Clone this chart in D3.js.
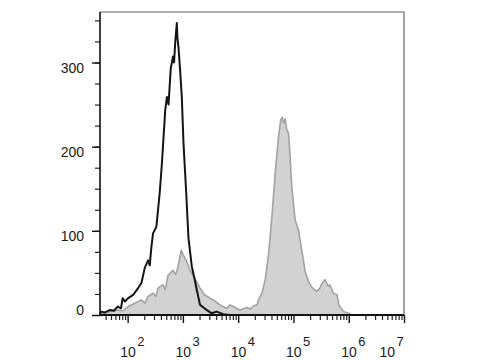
<!DOCTYPE html>
<html lang="en">
<head>
    <meta charset="UTF-8">
    <title>Flow cytometry histogram</title>
    <style>
        body {
            margin: 0;
            padding: 0;
            background-color: #fff;
        }

        #chart text {
            font-family: "Liberation Sans", Arial, sans-serif;
            fill: #1a1a1a;
        }
    </style>
</head>
<body>

<div id="chart"></div>

<script src="https://d3js.org/d3.v7.min.js"></script>

<script>
    // unstained / isotype control (black line), x as log10 of intensity
    const isoExp = [1.50, 1.52, 1.59, 1.68, 1.75, 1.82, 1.88, 1.91, 1.95, 2.01, 2.10, 2.19, 2.25, 2.31, 2.37, 2.40,
        2.43, 2.46, 2.52, 2.55, 2.58, 2.62, 2.65, 2.68, 2.71, 2.74, 2.78, 2.82, 2.84, 2.86, 2.89, 2.90, 2.92,
        2.95, 2.98, 3.01, 3.06, 3.10, 3.16, 3.22, 3.25, 3.31, 3.43, 3.52, 3.61, 3.73, 3.85, 7.00];
    const isoCount = [1, 4, 3, 6, 5, 10, 8, 20, 16, 20, 24, 32, 38, 56, 65, 59,
        81, 97, 105, 125, 145, 180, 212, 243, 259, 250, 293, 307, 300, 323, 347, 330, 318,
        290, 259, 205, 145, 92, 58, 40, 30, 12, 6, 2, 4, 1, 0, 0];

    // stained sample (grey filled)
    const stainExp = [1.50, 1.58, 1.68, 1.82, 1.91, 2.01, 2.13, 2.25, 2.31, 2.37, 2.46, 2.51, 2.55, 2.64, 2.68,
        2.73, 2.82, 2.87, 2.91, 2.97, 3.00, 3.06, 3.13, 3.22, 3.31, 3.39, 3.49, 3.55, 3.67, 3.79, 3.85, 3.91,
        4.03, 4.16, 4.22, 4.28, 4.34, 4.37, 4.43, 4.49, 4.55, 4.61, 4.67, 4.73, 4.77, 4.80, 4.82, 4.85, 4.88,
        4.91, 4.94, 4.97, 5.03, 5.09, 5.15, 5.18, 5.21, 5.27, 5.33, 5.42, 5.48, 5.52, 5.57, 5.63, 5.66, 5.72,
        5.79, 5.82, 5.91, 6.00, 6.06, 7.00];
    const stainCount = [0, 2, 4, 6, 5, 10, 14, 18, 14, 22, 26, 22, 32, 36, 30,
        47, 53, 48, 57, 77, 72, 65, 53, 43, 32, 24, 20, 18, 12, 8, 12, 10,
        6, 9, 7, 11, 12, 18, 26, 42, 72, 117, 168, 212, 232, 235, 228, 233, 220,
        216, 188, 152, 113, 101, 77, 65, 52, 40, 33, 28, 32, 38, 42, 34, 36, 26,
        24, 12, 4, 2, 0, 0];

    const xTickExps = [2, 3, 4, 5, 6, 7];
    const yTicks = [0, 100, 200, 300];

    const svgWidth = 480;
    const svgHeight = 360;
    const plot = { left: 100, right: 404, top: 12, bottom: 315 };

    const svg = d3.select("#chart")
        .append("svg")
        .attr("width", svgWidth)
        .attr("height", svgHeight);

    const x = d3.scaleLog()
        .domain([Math.pow(10, 1.5), 1e7])
        .range([plot.left, plot.right]);

    const y = d3.scaleLinear()
        .domain([0, 360])
        .range([plot.bottom, plot.top]);

    const stain = stainExp.map((e, i) => ({ v: Math.pow(10, e), c: stainCount[i] }));
    const iso = isoExp.map((e, i) => ({ v: Math.pow(10, e), c: isoCount[i] }));

    // frame (top + right)
    svg.append("path")
        .attr("d", `M${plot.left},${plot.top}H${plot.right}V${plot.bottom}`)
        .attr("fill", "none")
        .attr("stroke", "#666")
        .attr("stroke-width", 1.2);

    const area = d3.area()
        .x(d => x(d.v))
        .y0(y(0))
        .y1(d => y(d.c));

    svg.append("path")
        .datum(stain)
        .attr("fill", "#d2d2d2")
        .attr("stroke", "#a2a2a2")
        .attr("stroke-width", 1.6)
        .attr("stroke-linejoin", "round")
        .attr("d", area);

    const line = d3.line()
        .x(d => x(d.v))
        .y(d => y(d.c));

    svg.append("path")
        .datum(iso)
        .attr("fill", "none")
        .attr("stroke", "#141414")
        .attr("stroke-width", 2)
        .attr("stroke-linejoin", "round")
        .attr("d", line);

    // y axis
    const yMinor = d3.range(0, 351, 25);
    svg.append("g")
        .attr("transform", `translate(${plot.left},0)`)
        .call(d3.axisLeft(y).tickValues(yMinor).tickSize(5).tickFormat(""))
        .call(g => g.select(".domain").remove())
        .call(g => g.selectAll("line").attr("stroke", "#222").attr("stroke-width", 1.2));

    const yAxis = svg.append("g")
        .attr("transform", `translate(${plot.left},0)`)
        .call(d3.axisLeft(y).tickValues(yTicks).tickSize(8).tickSizeOuter(0).tickPadding(8));
    yAxis.select(".domain").attr("stroke", "#111").attr("stroke-width", 1.6)
        .attr("d", `M0,${plot.bottom}V${plot.top}`);
    yAxis.selectAll("line").attr("stroke", "#111").attr("stroke-width", 1.4);
    yAxis.selectAll("text")
        .style("font-size", "14px")
        .attr("dy", d => d === 0 ? "-0.02em" : "0.72em");

    // x axis
    const xMinor = [];
    for (let k = 1; k <= 6; k++) {
        for (let m = 2; m <= 9; m++) {
            const v = m * Math.pow(10, k);
            if (v >= x.domain()[0] && v <= x.domain()[1]) xMinor.push(v);
        }
    }
    svg.append("g")
        .attr("transform", `translate(0,${plot.bottom})`)
        .call(d3.axisBottom(x).tickValues(xMinor).tickSize(5).tickFormat(""))
        .call(g => g.select(".domain").remove())
        .call(g => g.selectAll("line").attr("stroke", "#222").attr("stroke-width", 1.2));

    const xAxis = svg.append("g")
        .attr("transform", `translate(0,${plot.bottom})`)
        .call(d3.axisBottom(x).tickValues(xTickExps.map(e => Math.pow(10, e))).tickSize(8).tickSizeOuter(0).tickFormat(""));
    xAxis.select(".domain").attr("stroke", "#111").attr("stroke-width", 2)
        .attr("d", `M${plot.left},0H${plot.right}`);
    xAxis.selectAll("line").attr("stroke", "#111").attr("stroke-width", 1.4);

    // decade labels 10^n
    const labels = svg.append("g");
    xTickExps.forEach((e, i) => {
        const last = i === xTickExps.length - 1;
        const cx = x(Math.pow(10, e)) + (last ? -17 : 0);
        const t = labels.append("text")
            .attr("x", cx - 7.5)
            .attr("y", 357)
            .style("font-size", "14px");
        t.append("tspan").text("10");
        t.append("tspan")
            .attr("dx", 1.5)
            .attr("dy", -11)
            .style("font-size", "13px")
            .text(e);
    });
</script>

</body>
</html>
